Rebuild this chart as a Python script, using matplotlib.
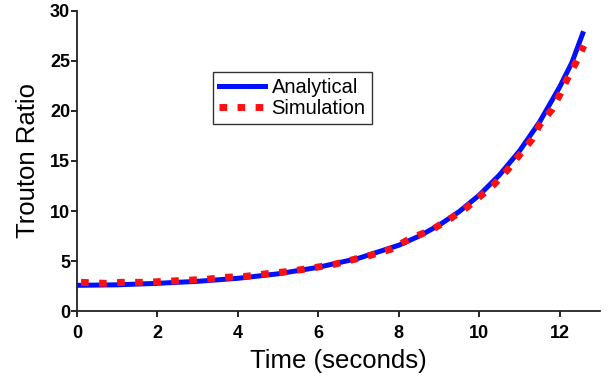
import matplotlib.pyplot as plt

# values
t_analytical = [0, 1, 2, 3, 4, 5, 6, 7, 8, 8.5, 9, 9.5, 10, 10.5, 11, 11.5, 12, 12.3, 12.57]
analytical = [2.6, 2.65, 2.8, 3.0, 3.3, 3.75, 4.4, 5.3, 6.6, 7.5, 8.6, 9.95, 11.6, 13.6, 16.0, 18.9, 22.4, 24.8, 27.7]

t_sim = [0.1, 0.7, 1.1, 1.7, 2.2, 2.7, 3.2, 3.7, 4.2, 4.8, 5.3, 5.8, 6.4, 6.8, 7.3, 7.8,
         8.3, 8.8, 9.3, 9.7, 10.0, 10.35, 10.7, 11.0, 11.3, 11.5, 11.8, 12.0, 12.2, 12.4, 12.6]
simulation = [2.9, 2.8, 2.9, 2.9, 3.0, 3.1, 3.2, 3.4, 3.5, 3.8, 4.0, 4.3, 4.7, 5.1, 5.6, 6.2,
              7.3, 8.1, 9.3, 10.4, 11.4, 12.6, 14.1, 15.6, 17.1, 18.6, 20.1, 21.6, 23.3, 24.8, 26.5]

plt.rcParams['font.family'] = ['Liberation Sans', 'DejaVu Sans']

fig = plt.figure(figsize=(6.16, 3.77), dpi=100)
ax = fig.add_axes([0.125, 0.174, 0.849, 0.798])

ax.plot(t_analytical, analytical, color='#0010ff', lw=3.6, label='Analytical', zorder=2)
ax.plot(t_sim, simulation, color='#ff1010', lw=5, linestyle=(0, (1.1, 1.5)),
        label='Simulation', zorder=3)

ax.set_xlim(0, 13)
ax.set_ylim(0, 30)
ax.set_xticks(range(0, 13, 2))
ax.set_yticks(range(0, 31, 5))
for s in ['top', 'right']:
    ax.spines[s].set_visible(False)
for s in ['left', 'bottom']:
    ax.spines[s].set_linewidth(1.3)
    ax.spines[s].set_color('#222222')
ax.tick_params(direction='out', length=4, width=1.2, labelsize=13)
ax.tick_params(axis='y', pad=1)
ax.tick_params(axis='x', pad=6)
for lbl in ax.get_xticklabels() + ax.get_yticklabels():
    lbl.set_fontweight('bold')

ax.set_xlabel('Time (seconds)', fontsize=18.5, labelpad=5)
ax.set_ylabel('Trouton Ratio', fontsize=18.5, labelpad=7)

leg = ax.legend(loc='upper left', bbox_to_anchor=(0.346, 0.809), bbox_transform=fig.transFigure,
                fontsize=14.5, frameon=True, fancybox=False, handlelength=2.3,
                borderpad=0.3, labelspacing=0.1, handletextpad=0.3, borderaxespad=0)
leg.get_frame().set_edgecolor('black')
leg.get_frame().set_linewidth(1.0)

fig.savefig('out.png', dpi=100)
